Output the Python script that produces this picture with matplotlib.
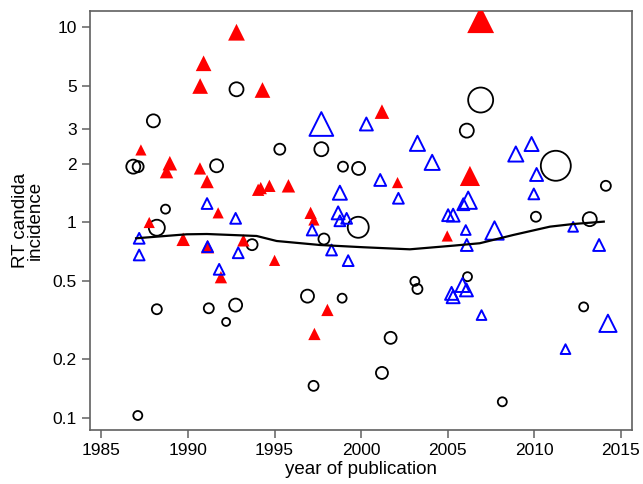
import matplotlib
matplotlib.use('Agg')
import matplotlib.pyplot as plt
import numpy as np

plt.rcParams['font.family'] = ['Liberation Sans', 'DejaVu Sans']

# black open circles: year, incidence, marker size (px)
circ_year = [1992.8, 1988.0, 1995.3, 1997.7, 1986.84, 1987.12, 1991.65, 1988.7, 1988.2, 1997.85,
             1993.7, 1996.9, 1988.2, 1991.2, 1992.75, 1992.2, 1997.25, 1987.1, 2006.9, 2006.1,
             2011.24, 1998.95, 1999.85, 2014.13, 2010.09, 1999.83, 2013.2, 2003.1, 2003.25, 2006.14,
             1998.9, 2012.85, 2001.7, 2001.2, 2008.15]
circ_val = [4.8, 3.31, 2.37, 2.37, 1.93, 1.93, 1.95, 1.17, 0.94, 0.823,
            0.77, 0.42, 0.36, 0.364, 0.378, 0.31, 0.146, 0.103, 4.23, 2.95,
            1.95, 1.93, 1.89, 1.54, 1.07, 0.945, 1.04, 0.50, 0.457, 0.528,
            0.41, 0.37, 0.257, 0.17, 0.121]
circ_w = [14, 13, 11, 14, 14, 11, 13, 9, 16, 11,
          11, 13, 10, 10, 13, 8, 10, 9, 25, 14,
          30, 10, 13, 10, 10, 21, 14, 9, 10, 9,
          9, 9, 12, 12, 9]

# red filled triangles
red_year = [1992.8, 1990.9, 1990.7, 1994.3, 1987.28, 1988.95, 1988.76, 1990.69, 1991.1, 1994.05,
            1994.2, 1994.7, 1995.8, 1991.74, 1987.76, 1997.08, 1997.27, 1989.72, 1991.13, 1993.2,
            1995.0, 1991.9, 1998.05, 1997.3, 2006.9, 2001.2, 2006.28, 2002.1, 2004.97]
red_val = [9.4, 6.52, 4.99, 4.76, 2.35, 2.01, 1.82, 1.89, 1.62, 1.47,
           1.5, 1.54, 1.54, 1.12, 1.0, 1.12, 1.03, 0.82, 0.752, 0.81,
           0.64, 0.525, 0.357, 0.269, 10.9, 3.69, 1.73, 1.60, 0.853]
red_w = [15, 14, 14, 14, 10, 13, 12, 11, 12, 11,
         11, 11, 12, 10, 10, 11, 10, 12, 12, 11,
         10, 11, 11, 11, 24, 13, 18, 10, 10]

# blue open triangles
blue_year = [1997.7, 1991.1, 1992.75, 1997.17, 1987.18, 1987.18, 1991.13, 1992.9, 1991.8, 2000.3,
             2003.25, 2009.84, 2004.1, 2008.93, 2010.13, 2001.1, 1998.77, 2002.15, 2009.97, 2006.18,
             2005.9, 1998.67, 1998.77, 1999.16, 2005.02, 2005.31, 2006.04, 2007.7, 2012.24, 2013.74,
             2006.1, 1998.29, 1999.25, 2005.22, 2005.31, 2005.85, 2006.08, 2006.95, 2014.25, 2011.8]
blue_val = [3.19, 1.25, 1.05, 0.915, 0.83, 0.682, 0.752, 0.70, 0.576, 3.19,
            2.54, 2.52, 2.03, 2.24, 1.76, 1.65, 1.42, 1.33, 1.40, 1.30,
            1.24, 1.12, 1.02, 1.05, 1.09, 1.09, 0.915, 0.91, 0.95, 0.767,
            0.767, 0.723, 0.638, 0.434, 0.417, 0.479, 0.452, 0.336, 0.305, 0.225]
blue_w = [22, 10, 10, 10, 10, 10, 10, 10, 10, 12,
          14, 13, 14, 14, 12, 11, 13, 10, 10, 16,
          11, 12, 10, 10, 11, 12, 9, 17, 9, 11,
          11, 10, 10, 12, 12, 13, 12, 9, 16, 9]

# smooth trend line
fit_year = [1987.0, 1989.92, 1991.09, 1993.96, 1995.12, 1997.62, 2000.12, 2002.81,
            2005.31, 2006.85, 2008.78, 2010.9, 2012.24, 2014.01]
fit_val = [0.83, 0.87, 0.873, 0.853, 0.804, 0.767, 0.747, 0.729,
           0.761, 0.783, 0.863, 0.952, 0.982, 1.01]

yticks = [0.1, 0.2, 0.5, 1, 2, 3, 5, 10]
ytick_labels = ['0.1', '0.2', '0.5', '1', '2', '3', '5', '10']
xticks = [1985, 1990, 1995, 2000, 2005, 2010, 2015]


def msize(w, k=1.0):
    # pixel diameter -> scatter area in pt^2 (dpi 100)
    return (np.array(w) * 0.72 * k) ** 2


fig = plt.figure(figsize=(6.43, 4.84), dpi=100)
ax = fig.add_axes([90 / 643, 54 / 484, 542 / 643, 419 / 484])

ax.scatter(circ_year, circ_val, s=msize(circ_w), marker='o', facecolors='none',
           edgecolors='black', linewidths=1.3, zorder=3)
ax.scatter(red_year, red_val, s=msize(red_w, 1.12), marker='^', color='red',
           linewidths=0, zorder=3)
ax.scatter(blue_year, blue_val, s=msize(blue_w, 1.08), marker='^', facecolors='none',
           edgecolors='blue', linewidths=1.4, zorder=4)
ax.plot(fit_year, fit_val, color='black', lw=1.6, zorder=5)

ax.set_yscale('log')
ax.set_ylim(0.0868, 12.07)
ax.set_xlim(1984.34, 2015.64)
ax.set_yticks(yticks)
ax.set_yticklabels(ytick_labels)
ax.minorticks_off()
ax.set_xticks(xticks)

for sp in ax.spines.values():
    sp.set_color('#606060')
    sp.set_linewidth(1.2)
ax.tick_params(colors='#606060', labelcolor='black', labelsize=12.5, length=6, width=1.1)

ax.set_xlabel('year of publication', fontsize=13.5, labelpad=2)
ax.set_ylabel('RT candida\nincidence', fontsize=13.5, labelpad=6, linespacing=0.9)

fig.savefig('out.png', dpi=100)
